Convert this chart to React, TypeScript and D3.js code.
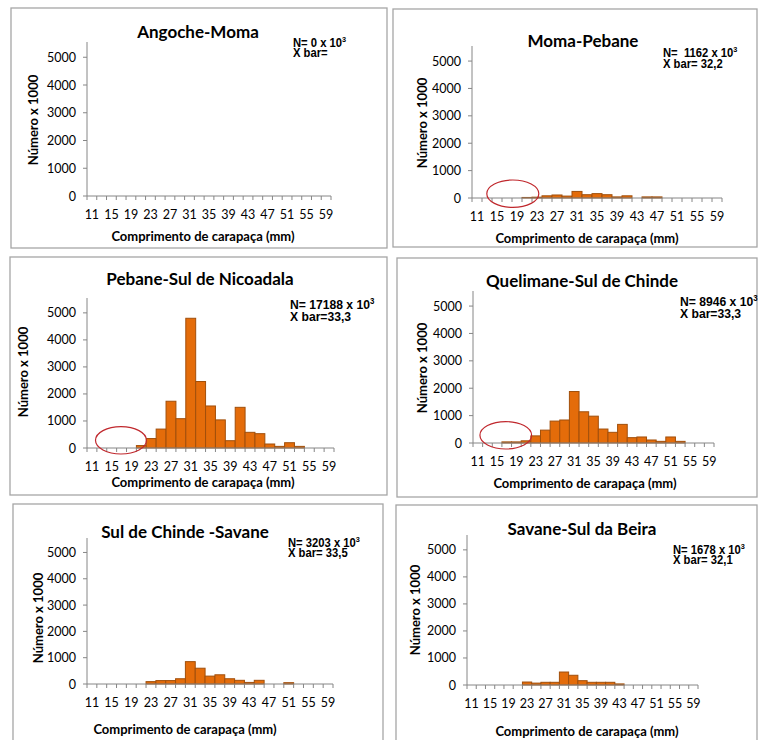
import React from "react";
import * as d3 from "d3";

// Carapace length classes (mm)
const lengthClasses = [
  "11", "13", "15", "17", "19", "21", "23", "25", "27", "29", "31", "33", "35",
  "37", "39", "41", "43", "45", "47", "49", "51", "53", "55", "57", "59",
];
const lengthTickLabels = ["11", "15", "19", "23", "27", "31", "35", "39", "43", "47", "51", "55", "59"];
const countTicks = [0, 1000, 2000, 3000, 4000, 5000];

// Number of individuals (x 1000) per length class, one array per coastal stretch
const angocheMoma = [0, 0, 0, 0, 0, 0, 0, 0, 0, 0, 0, 0, 0, 0, 0, 0, 0, 0, 0, 0, 0, 0, 0, 0, 0];
const momaPebane = [0, 0, 0, 0, 0, 20, 30, 80, 110, 70, 240, 120, 160, 120, 40, 80, 0, 40, 40, 0, 0, 0, 0, 0, 0];
const pebaneNicoadala = [0, 0, 0, 0, 0, 90, 350, 700, 1730, 1085, 4800, 2460, 1555, 1040, 270, 1505, 580, 530, 148, 60, 196, 60, 0, 0, 0];
const quelimaneChinde = [0, 0, 0, 40, 40, 80, 260, 470, 800, 840, 1880, 1140, 980, 510, 390, 680, 195, 220, 110, 60, 220, 60, 0, 0, 0];
const chindeSavane = [0, 0, 0, 0, 0, 0, 90, 130, 130, 200, 850, 600, 300, 350, 200, 140, 60, 140, 0, 0, 50, 0, 0, 0, 0];
const savaneBeira = [0, 0, 0, 0, 0, 0, 110, 70, 100, 100, 480, 360, 160, 100, 100, 100, 40, 0, 0, 0, 0, 0, 0, 0, 0];

const panelTitles = [
  "Angoche-Moma",
  "Moma-Pebane",
  "Pebane-Sul de Nicoadala",
  "Quelimane-Sul de Chinde",
  "Sul de Chinde -Savane",
  "Savane-Sul da Beira",
];
const panelTotals = ["0", " 1162", "17188", "8946", "3203", "1678"];
const panelMeans = ["", " 32,2", "33,3", "33,3", " 33,5", " 32,1"];
const panelSeries = [angocheMoma, momaPebane, pebaneNicoadala, quelimaneChinde, chindeSavane, savaneBeira];

// Frame and plot geometry of each panel
type Layout = {
  box: [number, number, number, number];
  left: number; right: number; top: number; bottom: number;
  titleX: number; titleY: number;
  yTitleX: number; yTitleY: number;
  xTitleX: number; xTitleY: number;
  noteX: number; noteY: number; noteGap: number; noteSize: number;
  ring?: { at: number; lift: number; rx: number; ry: number };
};

const layouts: Layout[] = [
  { box: [11, 8, 387, 248], left: 87, right: 331, top: 42, bottom: 196, titleX: 198, titleY: 38,
    yTitleX: 33, yTitleY: 120, xTitleX: 203, xTitleY: 241, noteX: 293, noteY: 47, noteGap: 10, noteSize: 12.5 },
  { box: [393, 9, 757, 247], left: 472, right: 722, top: 46, bottom: 198, titleX: 583, titleY: 47,
    yTitleX: 422, yTitleY: 123, xTitleX: 587, xTitleY: 243, noteX: 663, noteY: 57, noteGap: 10.5, noteSize: 12.5,
    ring: { at: 4.08, lift: 157, rx: 2.6, ry: 13.7 } },
  { box: [10, 257, 387, 495], left: 87, right: 334, top: 298, bottom: 448, titleX: 200, titleY: 285,
    yTitleX: 23, yTitleY: 372, xTitleX: 203, xTitleY: 487, noteX: 290, noteY: 309, noteGap: 12, noteSize: 13.5,
    ring: { at: 3.44, lift: 285, rx: 2.58, ry: 13.7 } },
  { box: [397, 258, 757, 497], left: 473, right: 714, top: 291, bottom: 443, titleX: 582, titleY: 287,
    yTitleX: 422, yTitleY: 368, xTitleX: 585, xTitleY: 488, noteX: 680, noteY: 306, noteGap: 12, noteSize: 13.5,
    ring: { at: 3.4, lift: 282, rx: 2.68, ry: 13.7 } },
  { box: [13, 504, 383, 745], left: 87, right: 333, top: 538, bottom: 684, titleX: 185, titleY: 538,
    yTitleX: 38, yTitleY: 618, xTitleX: 185, xTitleY: 734, noteX: 288, noteY: 547, noteGap: 10, noteSize: 12.5 },
  { box: [396, 505, 757, 745], left: 467, right: 698, top: 535, bottom: 685, titleX: 582, titleY: 535,
    yTitleX: 415, yTitleY: 610, xTitleX: 587, xTitleY: 736, noteX: 673, noteY: 554, noteGap: 10, noteSize: 12.5 },
];

const FONT = "Lato, 'Open Sans', sans-serif";
const NOTE_FONT = "'Liberation Sans', Arial, sans-serif";
const AXIS = "#868686";
const BAR_FILL = "#e46c0a";
const BAR_STROKE = "#a14f0b";

function Panel({ idx }: { idx: number }) {
  const L = layouts[idx];
  const values = panelSeries[idx];
  const x = d3.scaleBand<string>().domain(lengthClasses).range([L.left, L.right]).padding(0);
  const y = d3.scaleLinear().domain([0, 5550]).range([L.bottom, L.top]);
  const bw = x.bandwidth();
  const [bx0, by0, bx1, by1] = L.box;
  const boundaries = d3.range(lengthClasses.length + 1).map((i) => L.left + i * x.step());

  return (
    <g>
      <rect x={bx0} y={by0} width={bx1 - bx0} height={by1 - by0} fill="#fff" stroke="#a6a6a6" strokeWidth={1.3} />
      <text x={L.titleX} y={L.titleY} textAnchor="middle" fontFamily={FONT} fontWeight={700} fontSize={17} fill="#000">
        {panelTitles[idx]}
      </text>

      {/* bars */}
      {values.map((v, i) =>
        v > 0 ? (
          <rect key={i} x={x(lengthClasses[i])!} y={y(v)} width={bw} height={y(0) - y(v)}
            fill={BAR_FILL} stroke={BAR_STROKE} strokeWidth={1} />
        ) : null
      )}

      {/* y axis */}
      <line x1={L.left} x2={L.left} y1={L.top} y2={L.bottom} stroke={AXIS} strokeWidth={1} />
      {countTicks.map((t) => (
        <g key={t}>
          <line x1={L.left - 4} x2={L.left} y1={y(t)} y2={y(t)} stroke={AXIS} />
          <text x={L.left - 11} y={y(t)} dy="0.36em" textAnchor="end" fontFamily={FONT} fontSize={12.5} fill="#000">
            {t}
          </text>
        </g>
      ))}

      {/* x axis */}
      <line x1={L.left} x2={L.right} y1={L.bottom} y2={L.bottom} stroke={AXIS} strokeWidth={1} />
      {boundaries.map((bx, i) => (
        <line key={i} x1={bx} x2={bx} y1={L.bottom} y2={L.bottom + 4} stroke={AXIS} />
      ))}
      {lengthTickLabels.map((t) => (
        <text key={t} x={x(t)! + bw / 2} y={L.bottom + 18} dy="0.36em" textAnchor="middle"
          fontFamily={FONT} fontSize={12.5} fill="#000">
          {t}
        </text>
      ))}

      <text x={L.xTitleX} y={L.xTitleY} textAnchor="middle" fontFamily={FONT} fontWeight={700} fontSize={13} fill="#000">
        Comprimento de carapaça (mm)
      </text>
      <text transform={`translate(${L.yTitleX},${L.yTitleY}) rotate(-90)`} dy="0.36em" textAnchor="middle"
        fontFamily={FONT} fontWeight={700} fontSize={13} fill="#000">
        Número x 1000
      </text>

      {/* sample size and mean length, set in a narrow bold face */}
      <g transform={`translate(${L.noteX},${L.noteY}) scale(0.9,1)`}>
        <text x={0} y={0} fontFamily={NOTE_FONT} fontWeight={700} fontSize={L.noteSize} fill="#000"
          style={{ whiteSpace: "pre" }}>
          {`N= ${panelTotals[idx]} x 10`}
          <tspan dy={-5} fontSize={L.noteSize * 0.65}>3</tspan>
        </text>
        <text x={0} y={L.noteGap} fontFamily={NOTE_FONT} fontWeight={700} fontSize={L.noteSize} fill="#000"
          style={{ whiteSpace: "pre" }}>
          {`X bar=${panelMeans[idx]}`}
        </text>
      </g>

      {L.ring ? (
        <ellipse cx={L.left + L.ring.at * x.step()} cy={y(L.ring.lift)} rx={L.ring.rx * x.step()} ry={L.ring.ry}
          fill="none" stroke="#c0282d" strokeWidth={1.2} />
      ) : null}
    </g>
  );
}

export default function App() {
  return (
    <svg width={758} height={740} viewBox="0 0 758 740"
      style={{ position: "absolute", left: 0, top: 0, background: "#fff" }}>
      <rect x={0} y={0} width={758} height={740} fill="#fff" />
      {layouts.map((_, i) => (
        <Panel key={i} idx={i} />
      ))}
    </svg>
  );
}
